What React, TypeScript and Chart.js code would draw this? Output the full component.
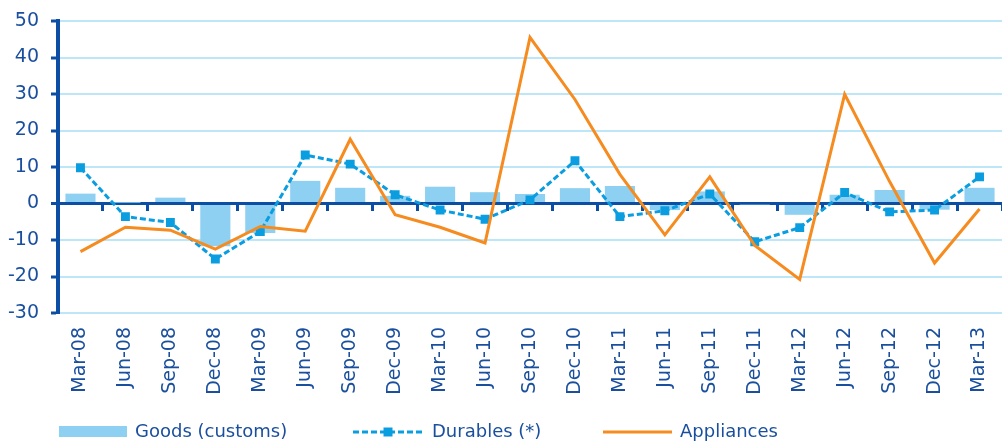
import React, { useEffect, useRef } from 'react';
import { Chart, registerables } from 'chart.js';

Chart.register(...registerables);

// ---- data ----
const categories = [
  'Mar-08', 'Jun-08', 'Sep-08', 'Dec-08', 'Mar-09', 'Jun-09', 'Sep-09', 'Dec-09',
  'Mar-10', 'Jun-10', 'Sep-10', 'Dec-10', 'Mar-11', 'Jun-11', 'Sep-11', 'Dec-11',
  'Mar-12', 'Jun-12', 'Sep-12', 'Dec-12', 'Mar-13',
];
const goodsCustoms = [2.7, 0.2, 1.6, -11.7, -8.1, 6.2, 4.3, 2.1, 4.6, 3.1, 2.6, 4.2, 4.8, -1.8, 3.3, -0.3, -3.1, 2.4, 3.7, -1.7, 4.3];
const durables = [9.8, -3.6, -5.2, -15.2, -7.7, 13.3, 10.8, 2.4, -1.8, -4.3, 1.0, 11.7, -3.6, -2.0, 2.6, -10.5, -6.6, 3.0, -2.3, -1.8, 7.3];
const appliances = [-13.2, -6.5, -7.3, -12.5, -6.3, -7.6, 17.6, -3.1, -6.5, -10.8, 45.5, 28.5, 8.0, -8.6, 7.3, -11.5, -20.8, 29.9, 6.0, -16.3, -1.5];
const seriesLabels = ['Goods (customs)', 'Durables (*)', 'Appliances'];
const yMin = -30;
const yMax = 50;
const yStep = 10;

// ---- styles ----
const FONT = '"DejaVu Sans", "Noto Sans", sans-serif';
const DARK = '#0c4ea3';
const TEXT = '#1a4f9e';
const LIGHT = '#bde6f8';
const BAR = '#8dd0f1';
const DUR = '#0a9de0';
const ORANGE = '#f68b1f';

const legendPlugin = {
  id: 'customLegend',
  afterDraw(chart: any) {
    const ctx = chart.ctx as CanvasRenderingContext2D;
    const y = 432;
    ctx.save();
    ctx.font = `18px ${FONT}`;
    ctx.textBaseline = 'middle';

    // bar item
    ctx.fillStyle = BAR;
    ctx.fillRect(59, y - 6, 68, 11);
    ctx.fillStyle = TEXT;
    ctx.fillText(chart.data.datasets[0].label, 135, y);

    // durables item
    ctx.strokeStyle = DUR;
    ctx.lineWidth = 3;
    ctx.setLineDash([6, 3]);
    ctx.beginPath();
    ctx.moveTo(353, y);
    ctx.lineTo(423, y);
    ctx.stroke();
    ctx.setLineDash([]);
    ctx.fillStyle = DUR;
    ctx.fillRect(388 - 4.5, y - 4.5, 9, 9);
    ctx.fillStyle = TEXT;
    ctx.fillText(chart.data.datasets[1].label, 432, y);

    // appliances item
    ctx.strokeStyle = ORANGE;
    ctx.lineWidth = 3;
    ctx.beginPath();
    ctx.moveTo(603, y);
    ctx.lineTo(672, y);
    ctx.stroke();
    ctx.fillStyle = TEXT;
    ctx.fillText(chart.data.datasets[2].label, 680, y);
    ctx.restore();
  },
};

export default function App() {
  const ref = useRef<HTMLCanvasElement>(null);

  useEffect(() => {
    if (!ref.current) return;
    const chart = new Chart(ref.current, {
      type: 'bar',
      data: {
        labels: categories,
        datasets: [
          {
            type: 'bar',
            label: seriesLabels[0],
            data: goodsCustoms,
            backgroundColor: BAR,
            borderWidth: 0,
            barPercentage: 0.67,
            categoryPercentage: 1,
            order: 3,
          },
          {
            type: 'line',
            label: seriesLabels[1],
            data: durables,
            borderColor: DUR,
            backgroundColor: DUR,
            borderWidth: 3,
            borderDash: [6, 3],
            pointStyle: 'rect',
            pointRadius: 6.3,
            pointBorderWidth: 0,
            pointBackgroundColor: DUR,
            tension: 0,
            fill: false,
            order: 2,
          },
          {
            type: 'line',
            label: seriesLabels[2],
            data: appliances,
            borderColor: ORANGE,
            backgroundColor: ORANGE,
            borderWidth: 3,
            pointRadius: 0,
            tension: 0,
            fill: false,
            order: 1,
          },
        ],
      },
      options: {
        responsive: true,
        maintainAspectRatio: false,
        animation: false,
        layout: { autoPadding: false, padding: { top: 21, left: 0, right: 0, bottom: 0 } },
        plugins: {
          legend: { display: false },
          tooltip: { enabled: false },
        },
        scales: {
          x: {
            type: 'category',
            position: 'bottom',
            offset: true,
            grid: { display: false, drawTicks: false },
            border: { display: false },
            ticks: {
              autoSkip: false,
              minRotation: 90,
              maxRotation: 90,
              padding: 14,
              color: TEXT,
              font: { family: FONT, size: 19 },
            },
            afterFit: (s: any) => {
              s.height = 131;
              s.paddingLeft = 0;
              s.paddingRight = 0;
            },
          },
          x2: {
            type: 'category',
            position: { y: 0 } as any,
            offset: true,
            grid: {
              offset: true,
              drawOnChartArea: false,
              drawTicks: true,
              tickLength: 6,
              tickColor: DARK,
              tickWidth: 3,
            },
            border: { display: true, color: DARK, width: 3 },
            ticks: { display: false },
            afterFit: (s: any) => {
              s.paddingLeft = 0;
              s.paddingRight = 0;
            },
          },
          y: {
            type: 'linear',
            min: yMin,
            max: yMax,
            ticks: {
              stepSize: yStep,
              padding: 12,
              color: TEXT,
              font: { family: FONT, size: 19 },
            },
            grid: {
              color: (c: any) => (c.tick && c.tick.value === 0 ? DARK : LIGHT),
              lineWidth: (c: any) => (c.tick && c.tick.value === 0 ? 3 : 2),
              drawTicks: true,
              tickLength: 7,
              tickColor: DARK,
              tickWidth: 3,
            },
            border: { display: true, color: DARK, width: 4 },
            afterFit: (s: any) => {
              s.width = 58;
              s.paddingTop = 0;
              s.paddingBottom = 0;
            },
          },
        },
      },
      plugins: [legendPlugin],
    });
    return () => chart.destroy();
  }, []);

  return (
    <div style={{ position: 'absolute', left: 0, top: 0, width: 1002, height: 444, background: '#fff' }}>
      <canvas ref={ref} />
    </div>
  );
}
